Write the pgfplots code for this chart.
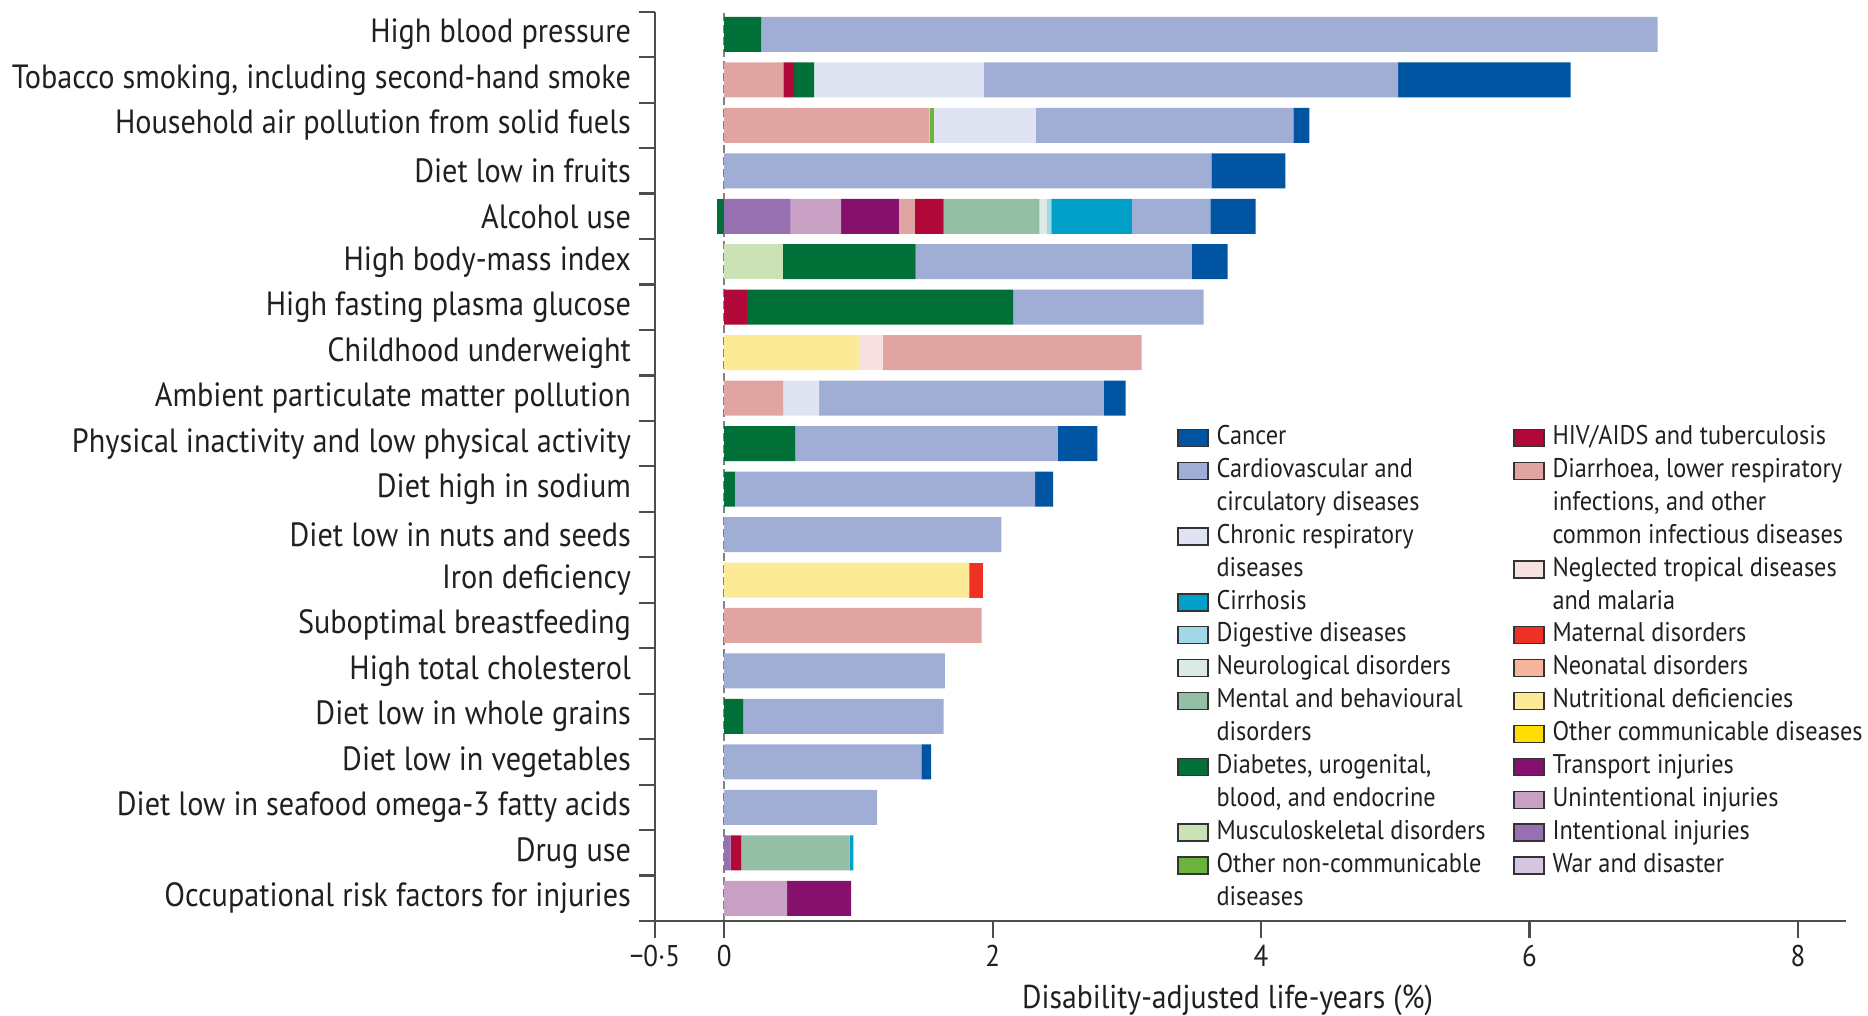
\documentclass[border=0pt]{standalone}
\usepackage{pgfplots}
\pgfplotsset{compat=1.18}
\usepackage{pgfplotstable}
\usepackage{fontspec}
\setmainfont{PT Sans}[FakeStretch=0.9]
\definecolor{cCancer}{HTML}{0055A2}
\definecolor{cCVD}{HTML}{A0AED6}
\definecolor{cChresp}{HTML}{E0E3F1}
\definecolor{cCirr}{HTML}{00A0C8}
\definecolor{cDig}{HTML}{A0D8E8}
\definecolor{cNeuro}{HTML}{DCEBE4}
\definecolor{cMental}{HTML}{95BFA5}
\definecolor{cDiab}{HTML}{007038}
\definecolor{cMusc}{HTML}{CBE1B6}
\definecolor{cONCD}{HTML}{6AB43E}
\definecolor{cHIV}{HTML}{B00838}
\definecolor{cDiarr}{HTML}{E0A5A3}
\definecolor{cNTD}{HTML}{F7E1E0}
\definecolor{cMatern}{HTML}{EE3124}
\definecolor{cNeonat}{HTML}{F7B49D}
\definecolor{cNutr}{HTML}{FDEA96}
\definecolor{cOthcomm}{HTML}{FFDD00}
\definecolor{cTransport}{HTML}{86116D}
\definecolor{cUnint}{HTML}{C8A0C3}
\definecolor{cIntent}{HTML}{9670B0}
\definecolor{cWar}{HTML}{D5C5E0}
\definecolor{axisgray}{HTML}{4D4D4D}
\definecolor{txt}{HTML}{231F20}

\pgfplotstableread{
y war intent unint transport othcomm nutr neonat matern ntd diarr hiv musc diab oncd mental neuro dig cirr chresp cvd cancer
19 0 0 0 0 0 0 0 0 0 0 0 0 0.275 0 0 0 0 0 0 6.68 0
18 0 0 0 0 0 0 0 0 0 0.44 0.08 0 0.15 0 0 0 0 0 1.265 3.086 1.285
17 0 0 0 0 0 0 0 0 0 1.53 0 0 0 0.03 0 0 0 0 0.76 1.92 0.12
16 0 0 0 0 0 0 0 0 0 0 0 0 0 0 0 0 0 0 0 3.63 0.55
15 0 0.494 0.376 0.432 0 0 0 0 0 0.119 0.214 0 0 0 0.713 0.06 0.03 0.6 0 0.584 0.338
14 0 0 0 0 0 0 0 0 0 0 0 0.436 0.99 0 0 0 0 0 0 2.058 0.266
13 0 0 0 0 0 0 0 0 0 0 0.17 0 1.984 0 0 0 0 0 0 1.418 0
12 0 0 0 0 0 1.005 0 0 0.177 1.928 0 0 0 0 0 0 0 0 0 0 0
11 0 0 0 0 0 0 0 0 0 0.44 0 0 0 0 0 0 0 0 0.267 2.121 0.163
10 0 0 0 0 0 0 0 0 0 0 0 0 0.53 0 0 0 0 0 0 1.953 0.297
9 0 0 0 0 0 0 0 0 0 0 0 0 0.08 0 0 0 0 0 0 2.237 0.133
8 0 0 0 0 0 0 0 0 0 0 0 0 0 0 0 0 0 0 0 2.064 0
7 0 0 0 0 0 1.827 0 0.1 0 0 0 0 0 0 0 0 0 0 0 0 0
6 0 0 0 0 0 0 0 0 0 1.917 0 0 0 0 0 0 0 0 0 0 0
5 0 0 0 0 0 0 0 0 0 0 0 0 0 0 0 0 0 0 0 1.644 0
4 0 0 0 0 0 0 0 0 0 0 0 0 0.143 0 0 0 0 0 0 1.492 0
3 0 0 0 0 0 0 0 0 0 0 0 0 0 0 0 0 0 0 0 1.468 0.073
2 0 0 0 0 0 0 0 0 0 0 0 0 0 0 0 0 0 0 0 1.139 0
1 0 0.047 0 0 0 0 0 0 0 0 0.08 0 0 0 0.808 0 0 0.027 0 0 0
0 0 0 0.469 0.477 0 0 0 0 0 0 0 0 0 0 0 0 0 0 0 0 0
}\riskdata

\pgfplotsset{
  base/.style={at={(0,0)}, anchor=south west, scale only axis,
    width=595.5pt, height=454.65pt,
    xmin=-0.516, xmax=8.358, ymin=-0.5, ymax=19.5},
  seg/.style={fill=#1, draw=none},
  leg/.style={hide axis,
    legend image code/.code={\draw[##1, draw=black!80, line width=0.7pt] (0pt,-4.25pt) rectangle (15pt,4.25pt); \path (19pt,0pt);},
    legend cell align=left,
    legend style={draw=none, fill=none, anchor=north west, inner sep=0pt, row sep=0pt,
      font=\fontsize{13.5}{15}\selectfont, text=txt,
      nodes={inner sep=0pt, text height=11.6pt, text depth=4.85pt}}},
}

\begin{document}
\begin{tikzpicture}
% background: zero reference line and the negative (protective) part of alcohol use
\begin{axis}[base, hide axis]
\addplot[dash pattern=on 4pt off 2pt, color=axisgray!70, line width=0.8pt, forget plot] coordinates {(0,-0.5) (0,19.5)};
\addplot[xbar, bar width=17.5pt, fill=cDiab, draw=none] coordinates {(-0.053,15)};
\end{axis}

\begin{axis}[base,
  xbar stacked, bar width=17.5pt,
  axis x line*=bottom, axis y line*=left,
  axis line style={axisgray, line width=1.1pt},
  tick style={axisgray, line width=1.1pt},
  tick align=outside,
  major tick length=8.5pt, minor tick length=8pt,
  xtick={-0.516,0,2,4,6,8}, xticklabels={−0·5,0,2,4,6,8},
  ytick={0,...,19},
  minor ytick={-0.5,0.5,...,19.5},
  major y tick style={draw=none},
  yticklabels={Occupational risk factors for injuries, Drug use, Diet low in seafood omega-3 fatty acids, Diet low in vegetables, Diet low in whole grains, High total cholesterol, Suboptimal breastfeeding, Iron deficiency, Diet low in nuts and seeds, Diet high in sodium, Physical inactivity and low physical activity, Ambient particulate matter pollution, Childhood underweight, High fasting plasma glucose, High body-mass index, Alcohol use, Diet low in fruits, Household air pollution from solid fuels, {Tobacco smoking, including second-hand smoke}, High blood pressure},
  yticklabel style={font=\fontsize{16.8}{18}\selectfont, text=txt},
  xticklabel style={font=\fontsize{15}{17}\selectfont, text=txt},
  xlabel={Disability-adjusted life-years (\%)},
  every axis x label/.style={at={(axis description cs:0.4807,0)}, anchor=north, yshift=-28.5pt, font=\fontsize{16.5}{18}\selectfont, text=txt},
]
\addplot[seg=cWar] table[x=war, y=y] {\riskdata};
\addplot[seg=cIntent] table[x=intent, y=y] {\riskdata};
\addplot[seg=cUnint] table[x=unint, y=y] {\riskdata};
\addplot[seg=cTransport] table[x=transport, y=y] {\riskdata};
\addplot[seg=cOthcomm] table[x=othcomm, y=y] {\riskdata};
\addplot[seg=cNutr] table[x=nutr, y=y] {\riskdata};
\addplot[seg=cNeonat] table[x=neonat, y=y] {\riskdata};
\addplot[seg=cMatern] table[x=matern, y=y] {\riskdata};
\addplot[seg=cNTD] table[x=ntd, y=y] {\riskdata};
\addplot[seg=cDiarr] table[x=diarr, y=y] {\riskdata};
\addplot[seg=cHIV] table[x=hiv, y=y] {\riskdata};
\addplot[seg=cMusc] table[x=musc, y=y] {\riskdata};
\addplot[seg=cDiab] table[x=diab, y=y] {\riskdata};
\addplot[seg=cONCD] table[x=oncd, y=y] {\riskdata};
\addplot[seg=cMental] table[x=mental, y=y] {\riskdata};
\addplot[seg=cNeuro] table[x=neuro, y=y] {\riskdata};
\addplot[seg=cDig] table[x=dig, y=y] {\riskdata};
\addplot[seg=cCirr] table[x=cirr, y=y] {\riskdata};
\addplot[seg=cChresp] table[x=chresp, y=y] {\riskdata};
\addplot[seg=cCVD] table[x=cvd, y=y] {\riskdata};
\addplot[seg=cCancer] table[x=cancer, y=y] {\riskdata};
\end{axis}

% legend, first column
\begin{axis}[base, leg, legend style={at={(0.4383,0.5499)}}]
\addlegendimage{fill=cCancer}\addlegendentry{Cancer}
\addlegendimage{fill=cCVD}\addlegendentry{Cardiovascular and}
\addlegendimage{empty legend}\addlegendentry{circulatory diseases}
\addlegendimage{fill=cChresp}\addlegendentry{Chronic respiratory}
\addlegendimage{empty legend}\addlegendentry{diseases}
\addlegendimage{fill=cCirr}\addlegendentry{Cirrhosis}
\addlegendimage{fill=cDig}\addlegendentry{Digestive diseases}
\addlegendimage{fill=cNeuro}\addlegendentry{Neurological disorders}
\addlegendimage{fill=cMental}\addlegendentry{Mental and behavioural}
\addlegendimage{empty legend}\addlegendentry{disorders}
\addlegendimage{fill=cDiab}\addlegendentry{Diabetes, urogenital,}
\addlegendimage{empty legend}\addlegendentry{blood, and endocrine}
\addlegendimage{fill=cMusc}\addlegendentry{Musculoskeletal disorders}
\addlegendimage{fill=cONCD}\addlegendentry{Other non-communicable}
\addlegendimage{empty legend}\addlegendentry{diseases}
\end{axis}

% legend, second column
\begin{axis}[base, leg, legend style={at={(0.7204,0.5499)}}]
\addlegendimage{fill=cHIV}\addlegendentry{HIV/AIDS and tuberculosis}
\addlegendimage{fill=cDiarr}\addlegendentry{Diarrhoea, lower respiratory}
\addlegendimage{empty legend}\addlegendentry{infections, and other}
\addlegendimage{empty legend}\addlegendentry{common infectious diseases}
\addlegendimage{fill=cNTD}\addlegendentry{Neglected tropical diseases}
\addlegendimage{empty legend}\addlegendentry{and malaria}
\addlegendimage{fill=cMatern}\addlegendentry{Maternal disorders}
\addlegendimage{fill=cNeonat}\addlegendentry{Neonatal disorders}
\addlegendimage{fill=cNutr}\addlegendentry{Nutritional deficiencies}
\addlegendimage{fill=cOthcomm}\addlegendentry{Other communicable diseases}
\addlegendimage{fill=cTransport}\addlegendentry{Transport injuries}
\addlegendimage{fill=cUnint}\addlegendentry{Unintentional injuries}
\addlegendimage{fill=cIntent}\addlegendentry{Intentional injuries}
\addlegendimage{fill=cWar}\addlegendentry{War and disaster}
\end{axis}

\pgfresetboundingbox
\path[use as bounding box] (-327.5pt,-47.5pt) rectangle (606.5pt,460.5pt);
\end{tikzpicture}
\end{document}
